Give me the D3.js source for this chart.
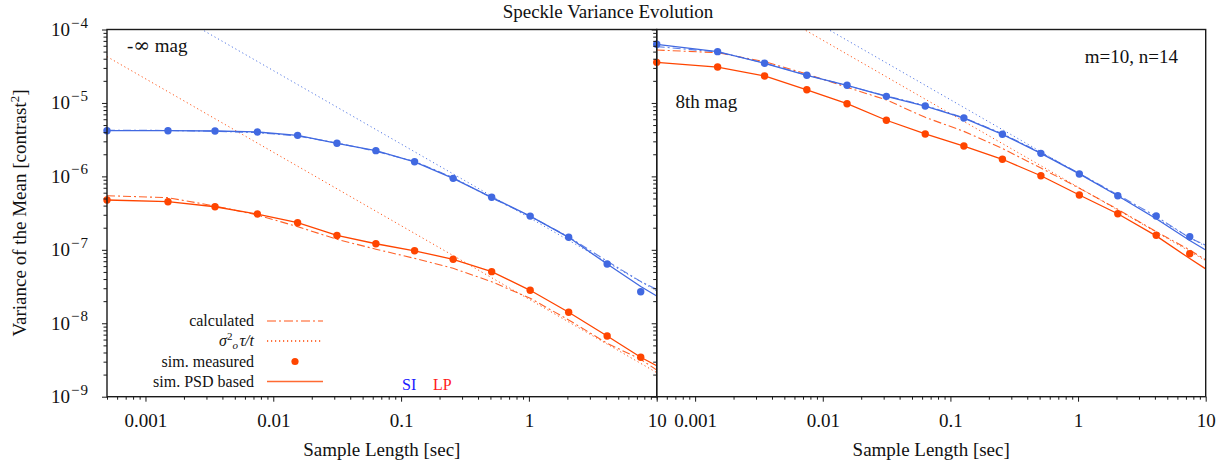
<!DOCTYPE html>
<html><head><meta charset="utf-8">
<script src="https://cdn.jsdelivr.net/npm/d3@7"></script>
<style>
body{margin:0;background:#fff}
text{font-family:"Liberation Serif","Times New Roman",serif;fill:#111}
</style>
</head><body><svg id="c" width="1226" height="466"></svg>
<script>
// ---------- data ----------
const sampleLen = [0.0005, 0.0015, 0.0035, 0.0075, 0.0155, 0.0315, 0.0635, 0.1275, 0.2555, 0.5115, 1.0235, 2.0475, 4.0955, 7.5];
const lineLen   = [0.0005, 0.0015, 0.0035, 0.0075, 0.0155, 0.0315, 0.0635, 0.1275, 0.2555, 0.5115, 1.0235, 2.0475, 4.0955, 7.5, 10];
const theoryLen = [0.0005, 10];

// left panel: -inf mag
const siMeasL = [4.19e-6, 4.19e-6, 4.15e-6, 4.02e-6, 3.62e-6, 2.82e-6, 2.24e-6, 1.58e-6, 9.4e-7, 5.19e-7, 2.88e-7, 1.48e-7, 6.4e-8, 2.69e-8];
const lpMeasL = [4.77e-7, 4.52e-7, 3.86e-7, 3.07e-7, 2.34e-7, 1.57e-7, 1.21e-7, 9.7e-8, 7.43e-8, 5.04e-8, 2.81e-8, 1.41e-8, 6.7e-9, 3.44e-9];
const siPsdL  = [4.19e-6, 4.19e-6, 4.15e-6, 4.02e-6, 3.62e-6, 2.82e-6, 2.24e-6, 1.58e-6, 9.4e-7, 5.19e-7, 2.88e-7, 1.48e-7, 6.4e-8, 3.16e-8, 2.35e-8];
const lpPsdL  = [4.77e-7, 4.52e-7, 3.86e-7, 3.07e-7, 2.34e-7, 1.57e-7, 1.21e-7, 9.7e-8, 7.43e-8, 5.04e-8, 2.81e-8, 1.41e-8, 6.7e-9, 3.44e-9, 2.64e-9];
const siCalcL = [4.25e-6, 4.22e-6, 4.12e-6, 3.95e-6, 3.55e-6, 2.85e-6, 2.2e-6, 1.6e-6, 9.6e-7, 5.1e-7, 2.85e-7, 1.5e-7, 7.0e-8, 3.7e-8, 2.9e-8];
const lpCalcL = [5.46e-7, 5.13e-7, 3.95e-7, 2.98e-7, 2.07e-7, 1.39e-7, 1.02e-7, 7.65e-8, 5.6e-8, 3.68e-8, 2.19e-8, 1.11e-8, 5.33e-9, 3.23e-9, 2.31e-9];
const siTheoryL = [5.52e-4, 2.76e-8];
const lpTheoryL = [4.27e-5, 2.13e-9];

// right panel: 8th mag
const siMeasR = [6.29e-5, 4.99e-5, 3.47e-5, 2.38e-5, 1.74e-5, 1.23e-5, 9.08e-6, 6.23e-6, 3.74e-6, 2.06e-6, 1.08e-6, 5.45e-7, 2.89e-7, 1.51e-7];
const lpMeasR = [3.57e-5, 3.08e-5, 2.33e-5, 1.51e-5, 9.77e-6, 5.81e-6, 3.78e-6, 2.59e-6, 1.71e-6, 1.02e-6, 5.57e-7, 3.1e-7, 1.58e-7, 8.85e-8];
const siPsdR  = [6.29e-5, 4.99e-5, 3.47e-5, 2.38e-5, 1.74e-5, 1.23e-5, 9.08e-6, 6.23e-6, 3.74e-6, 2.06e-6, 1.08e-6, 5.45e-7, 2.65e-7, 1.34e-7, 9.95e-8];
const lpPsdR  = [3.57e-5, 3.08e-5, 2.33e-5, 1.51e-5, 9.77e-6, 5.81e-6, 3.78e-6, 2.59e-6, 1.71e-6, 1.02e-6, 5.57e-7, 3.1e-7, 1.55e-7, 7.6e-8, 5.5e-8];
const siCalcR = [5.85e-5, 4.95e-5, 3.5e-5, 2.4e-5, 1.72e-5, 1.25e-5, 9.2e-6, 6.3e-6, 3.8e-6, 2.1e-6, 1.1e-6, 5.6e-7, 2.85e-7, 1.45e-7, 1.16e-7];
const lpCalcR = [5.26e-5, 4.83e-5, 3.65e-5, 2.48e-5, 1.63e-5, 1.1e-5, 6.37e-6, 4.1e-6, 2.4e-6, 1.3e-6, 6.9e-7, 3.56e-7, 1.77e-7, 9.95e-8, 7.27e-8];
const siTheoryR = [2.21e-3, 1.107e-7];
const lpTheoryR = [1.43e-3, 7.14e-8];

const xTickVals   = [0.001, 0.01, 0.1, 1, 10];
const xTickLabels = ["0.001", "0.01", "0.1", "1", "10"];
const yTickVals   = [1e-9, 1e-8, 1e-7, 1e-6, 1e-5, 1e-4];
const yTickExps   = ["−9", "−8", "−7", "−6", "−5", "−4"];

const legendLabels = ["calculated", "sim. measured", "sim. PSD based"];

// ---------- drawing ----------
const BLUE = "#4169e1", RED = "#ff4500", INK = "#1a1a1a";
const DOT = "1.2,2.8", DASHDOT = "8,3,2,3";
const svg = d3.select("#c");
const TOP = 29.5, BOTTOM = 396.7;

const panels = [
  {x0:107, x1:656.7, si:[siMeasL, siPsdL, siCalcL, siTheoryL], lp:[lpMeasL, lpPsdL, lpCalcL, lpTheoryL], yLabels:true},
  {x0:656.7, x1:1205.7, si:[siMeasR, siPsdR, siCalcR, siTheoryR], lp:[lpMeasR, lpPsdR, lpCalcR, lpTheoryR], yLabels:false}
];

panels.forEach((p, pi) => {
  const x = d3.scaleLog().domain([0.0005, 10]).range([p.x0, p.x1]);
  const y = d3.scaleLog().domain([1e-9, 1e-4]).range([BOTTOM, TOP]);
  const cid = "clip" + pi;
  svg.append("clipPath").attr("id", cid).append("rect")
    .attr("x", p.x0).attr("y", TOP).attr("width", p.x1 - p.x0).attr("height", BOTTOM - TOP);
  const g = svg.append("g").attr("clip-path", `url(#${cid})`);
  const line = d3.line().x(d => x(d[0])).y(d => y(d[1]));

  [[p.lp, RED], [p.si, BLUE]].forEach(([s, col]) => {
    const [meas, psd, calc, th] = s;
    g.append("path").datum(theoryLen.map((t,i)=>[t, th[i]])).attr("d", line)
      .attr("fill","none").attr("stroke", col).attr("stroke-width",1).attr("stroke-dasharray",DOT).attr("opacity",0.9);
    g.append("path").datum(lineLen.map((t,i)=>[t, calc[i]])).attr("d", line)
      .attr("fill","none").attr("stroke", col).attr("stroke-width",1.1).attr("stroke-dasharray",DASHDOT).attr("opacity",0.85);
    g.append("path").datum(lineLen.map((t,i)=>[t, psd[i]])).attr("d", line)
      .attr("fill","none").attr("stroke", col).attr("stroke-width",1.3);
  });
  [[p.lp, RED], [p.si, BLUE]].forEach(([s, col]) => {
    svg.append("g").selectAll("circle").data(sampleLen.map((t,i)=>[t, s[0][i]])).join("circle")
      .attr("cx", d => x(d[0])).attr("cy", d => y(d[1])).attr("r", 3.7).attr("fill", col);
  });

  // x axis
  const minorX = x.ticks().filter(v => !xTickVals.some(m => Math.abs(Math.log10(v) - Math.log10(m)) < 1e-6));
  const gxm = svg.append("g").attr("transform", `translate(0,${BOTTOM})`)
    .call(d3.axisBottom(x).tickValues(minorX).tickSize(3).tickFormat(""));
  const gx = svg.append("g").attr("transform", `translate(0,${BOTTOM})`)
    .call(d3.axisBottom(x).tickValues(xTickVals).tickSize(5).tickFormat((d,i)=>xTickLabels[i]));
  gx.selectAll("text").attr("y", 30).attr("dy", 0).style("font-size","19px")
    .style("font-family",'"Liberation Serif","Times New Roman",serif').attr("fill", INK);
  [gxm, gx].forEach(a => { a.select(".domain").remove(); a.selectAll("line").attr("stroke", INK); });

  // y axis (outward ticks to the left)
  const minorY = y.ticks().filter(v => !yTickVals.some(m => Math.abs(Math.log10(v) - Math.log10(m)) < 1e-6));
  const gym = svg.append("g").attr("transform", `translate(${p.x0},0)`)
    .call(d3.axisLeft(y).tickValues(minorY).tickSize(3.5).tickFormat(""));
  const gy = svg.append("g").attr("transform", `translate(${p.x0},0)`)
    .call(d3.axisLeft(y).tickValues(yTickVals).tickSize(5).tickFormat(""));
  [gym, gy].forEach(a => { a.select(".domain").remove(); a.selectAll("line").attr("stroke", INK); });
  if (p.yLabels) {
    yTickVals.forEach((v, i) => {
      const t = svg.append("text").attr("x", 89).attr("y", y(v) + 6.5).attr("text-anchor","end")
        .style("font-size","19px");
      t.append("tspan").text("10");
      t.append("tspan").attr("dx", 1).attr("dy", -8.5).style("font-size","15px").style("letter-spacing","1px").text(yTickExps[i]);
    });
  }

  svg.append("rect").attr("x", p.x0).attr("y", TOP).attr("width", p.x1 - p.x0).attr("height", BOTTOM - TOP)
    .attr("fill","none").attr("stroke", INK).attr("stroke-width", 1.4);

  svg.append("text").attr("x", (p.x0 + p.x1) / 2).attr("y", 456).attr("text-anchor","middle")
    .style("font-size","19px").text("Sample Length [sec]");
});

// title
svg.append("text").attr("x", 608).attr("y", 17.5).attr("text-anchor","middle").style("font-size","19px")
  .text("Speckle Variance Evolution");

// y label
const yl = svg.append("text").attr("transform","translate(26,213) rotate(-90)").attr("text-anchor","middle")
  .style("font-size","19px");
yl.append("tspan").text("Variance of the Mean [contrast");
yl.append("tspan").attr("dy",-7).style("font-size","13px").text("2");
yl.append("tspan").attr("dy",7).text("]");

// annotations
const inf = svg.append("text").attr("x",127).attr("y",52).style("font-size","19px");
inf.append("tspan").text("-");
inf.append("tspan").style("font-family",'"DejaVu Serif",serif').style("font-size","20px").text("∞");
inf.append("tspan").text(" mag");
svg.append("text").attr("x",675.5).attr("y",108).style("font-size","19px").text("8th mag");
svg.append("text").attr("x",1178).attr("y",63).attr("text-anchor","end").style("font-size","19px").text("m=10, n=14");
svg.append("text").attr("x",402).attr("y",390).style("font-size","16px").style("fill","#1a1aff").text("SI");
svg.append("text").attr("x",433).attr("y",390).style("font-size","16px").style("fill","#ff1a1a").text("LP");

// legend
const LX = 254, L0 = 267, L1 = 323;
const lg = svg.append("g");
const rowY = [326, 346, 366.5, 386.5];
lg.append("text").attr("x",LX).attr("y",rowY[0]).attr("text-anchor","end").style("font-size","16px").text(legendLabels[0]);
lg.append("line").attr("x1",L0).attr("x2",L1).attr("y1",rowY[0]-5).attr("y2",rowY[0]-5)
  .attr("stroke",RED).attr("stroke-width",1.3).attr("stroke-dasharray","9,3,2,3").attr("opacity",0.6);
// sigma_o^2 tau / t  (single text element)
const mt = lg.append("text").attr("x",LX).attr("y",rowY[1]).attr("text-anchor","end")
  .style("font-size","16px").style("font-style","italic");
mt.append("tspan").text("σ");
mt.append("tspan").attr("dy",-6.5).style("font-size","11px").style("font-style","normal").text("2");
mt.append("tspan").attr("dx",0).attr("dy",9.5).style("font-size","11px").text("o");
mt.append("tspan").attr("dx",1.5).attr("dy",-3).text("τ/t");
lg.append("line").attr("x1",L0).attr("x2",L1).attr("y1",rowY[1]-5).attr("y2",rowY[1]-5)
  .attr("stroke",RED).attr("stroke-width",1.3).attr("stroke-dasharray",DOT);
lg.append("text").attr("x",LX).attr("y",rowY[2]).attr("text-anchor","end").style("font-size","16px").text(legendLabels[1]);
lg.append("circle").attr("cx",(L0+L1)/2).attr("cy",rowY[2]-5).attr("r",3.6).attr("fill",RED);
lg.append("text").attr("x",LX).attr("y",rowY[3]).attr("text-anchor","end").style("font-size","16px").text(legendLabels[2]);
lg.append("line").attr("x1",L0).attr("x2",L1).attr("y1",rowY[3]-5).attr("y2",rowY[3]-5)
  .attr("stroke",RED).attr("stroke-width",1.3).attr("opacity",0.8);
</script>
</body></html>
